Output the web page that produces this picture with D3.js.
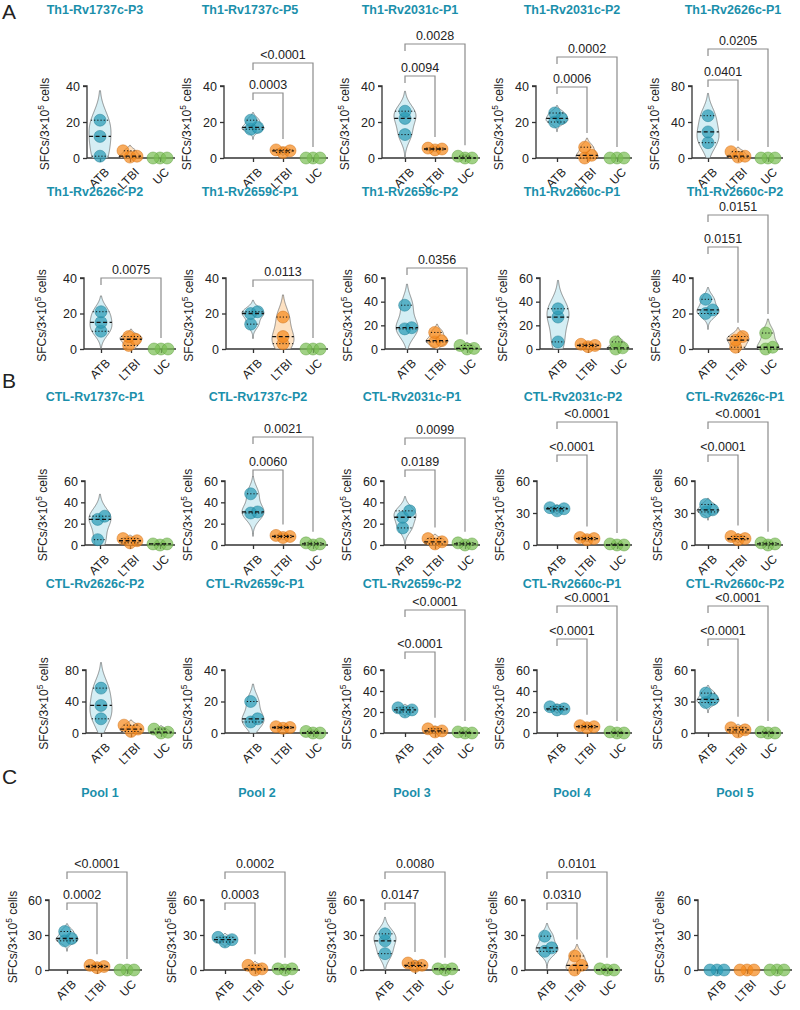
<!DOCTYPE html>
<html><head><meta charset="utf-8">
<script src="https://cdn.jsdelivr.net/npm/d3@7"></script>
<style>body{margin:0;background:#fff}svg{display:block}</style>
</head><body>
<svg id="c" width="800" height="1010"></svg>
<script>
// ---------------- DATA ----------------
const groups = ["ATB", "LTBI", "UC"];
const titles = [
  "Th1-Rv1737c-P3","Th1-Rv1737c-P5","Th1-Rv2031c-P1","Th1-Rv2031c-P2","Th1-Rv2626c-P1",
  "Th1-Rv2626c-P2","Th1-Rv2659c-P1","Th1-Rv2659c-P2","Th1-Rv2660c-P1","Th1-Rv2660c-P2",
  "CTL-Rv1737c-P1","CTL-Rv1737c-P2","CTL-Rv2031c-P1","CTL-Rv2031c-P2","CTL-Rv2626c-P1",
  "CTL-Rv2626c-P2","CTL-Rv2659c-P1","CTL-Rv2659c-P2","CTL-Rv2660c-P1","CTL-Rv2660c-P2",
  "Pool 1","Pool 2","Pool 3","Pool 4","Pool 5"];
const yTicks = [
  [0,20,40],[0,20,40],[0,20,40],[0,20,40],[0,40,80],
  [0,20,40],[0,20,40],[0,20,40,60],[0,20,40,60],[0,20,40],
  [0,20,40,60],[0,20,40,60],[0,20,40,60],[0,30,60],[0,30,60],
  [0,40,80],[0,20,40],[0,20,40,60],[0,20,40,60],[0,30,60],
  [0,30,60],[0,30,60],[0,30,60],[0,30,60],[0,30,60]];
const atbValues = [
  [1,12,21],[16,17,21],[13,22,26],[20,22,25],[17,29,47],
  [10,15,21],[14,20,21],[17,18,37],[6,27,34],[20,22,28],
  [5,24,27],[30,31,48],[16,26,32],[32,34,35],[31,33,38],
  [18,35,57],[7,9,20],[20,22,24],[22,23,25],[29,32,38],
  [25,27,33],[24,26,28],[14,25,31],[16,19,29],[0,0,0]];
const ltbiValues = [
  [0.5,1,4],[3,4,4.5],[4.5,5,5.5],[0,1.5,6],[1,2,7],
  [2,5.5,7],[3,7,18],[6,7,14],[2,3,4],[1,5,7],
  [2,4,6],[7,8,9],[1,3,6],[5,6,7],[5,6,8],
  [2,5,10],[3,3.5,4],[1,2,4],[5,6,7],[1,3,5],
  [2,3,4],[0,1,4],[3,4,6],[0,4,12],[0,0,0]];
const ucValues = [
  [0,0,0],[0,0,0],[0,0,1],[0,0,0],[0,0,0],
  [0,0,0],[0,0,0],[0,0.5,3],[0,1,6],[0,1,9],
  [0,1,1],[0,1,2],[0,1,2],[0,0,1],[0,1,2],
  [0,1,5],[0,0,1],[0,0,1],[0,0,1],[0,0,1],
  [0,0,0],[0,1,1],[0,1,1],[0,0,1],[0,0,0]];
// p values: ATB vs LTBI, ATB vs UC
const pAtbLtbi = [
  null,"0.0003","0.0094","0.0006","0.0401",
  null,null,null,null,"0.0151",
  null,"0.0060","0.0189","<0.0001","<0.0001",
  null,null,"<0.0001","<0.0001","<0.0001",
  "0.0002","0.0003","0.0147","0.0310",null];
const pAtbUc = [
  null,"<0.0001","0.0028","0.0002","0.0205",
  "0.0075","0.0113","0.0356",null,"0.0151",
  null,"0.0021","0.0099","<0.0001","<0.0001",
  null,null,"<0.0001","<0.0001","<0.0001",
  "<0.0001","0.0002","0.0080","0.0101",null];
const sectionLetters = ["A","B","C"];

// ---------------- LAYOUT ----------------
const rows = [
  {title:14, top:86, base:158},
  {title:196, top:278, base:349},
  {title:401, top:481, base:545},
  {title:588, top:670, base:733},
  {title:797, top:900, base:970}];
const axisXs = [[87,224,382,536,692],[84,226,385,540,693],[85,225,384,537,695],[86,225,384,537,695],[49,204,364,525,698]];
const cat0s  = [[100,253,405,557,708],[101,253,407,558,708],[100,253,405,557,708],[101,253,405,557,708],[67,225,385,547,717]];
const titleXs = [[95,250,410,572,733],[95,250,410,572,735],[95,258,412,573,735],[95,255,412,572,735],[100,257,412,572,735]];
const yLabelOffsets = [[38,33,33,33,33],[38,33,33,33,33],[38,33,33,33,33],[38,33,33,33,33],[32,28,28,28,34]];
// bracket line y: [inner (ATB-LTBI), outer (ATB-UC)]
const bracketYs = [
  [null,null],[93,63],[76,44],[87,57],[80,49],
  [null,278],[null,280],[null,268],[null,null],[247,215],
  [null,null],[470,437],[470,438],[455,422],[455,422],
  [null,null],[null,null],[652,610],[639,606],[639,606],
  [903,872],[903,872],[903,872],[903,872],[null,null]];
const letterYs = [19, 388, 784];
const catStep = 30;
const R = 6;
const fills = ["#2a9bb5","#f58a1f","#7cbf56"];
const strokes = ["#1c7d93","#d06d10","#5c9e3a"];
const vfills = ["#d5eef4","#fde1c2","#dcefcf"];
const titleColor = "#1b8fab";
const FONT = "'Liberation Sans', Arial, Helvetica, sans-serif";

const svg = d3.select("#c");
svg.append("rect").attr("width",800).attr("height",1010).attr("fill","#fff");

sectionLetters.forEach((L,i)=>{
  svg.append("text").attr("x",2).attr("y",letterYs[i]).text(L)
    .attr("font-family",FONT).attr("font-size",21).attr("fill","#222");
});

function quant(s,p){const n=s.length;const pos=(n+1)*p;if(pos<=1)return s[0];if(pos>=n)return s[n-1];const lo=Math.floor(pos);return s[lo-1]+(pos-lo)*(s[lo]-s[lo-1]);}
function gauss(u){return Math.exp(-0.5*u*u)/Math.sqrt(2*Math.PI);}

for(let i=0;i<25;i++){
  const r=Math.floor(i/5), c=i%5;
  const row=rows[r];
  const ax=axisXs[r][c], x0=cat0s[r][c];
  const ticks=yTicks[i];
  const ymax=d3.max(ticks);
  const y=d3.scaleLinear().domain([0,ymax]).range([row.base,row.top]);
  const x=d3.scalePoint().domain(groups).range([x0,x0+2*catStep]);
  const g=svg.append("g");
  const xEnd=x0+2*catStep+15;

  // title
  g.append("text").attr("x",titleXs[r][c]).attr("y",row.title).attr("text-anchor","middle")
    .attr("font-family",FONT).attr("font-weight","bold").attr("font-size",12.5).attr("fill",titleColor).text(titles[i]);

  // y axis
  const yAxis=d3.axisLeft(y).tickValues(ticks).tickSize(4).tickPadding(3).tickFormat(d3.format("d"));
  const ya=g.append("g").attr("transform",`translate(${ax},0)`).call(yAxis);
  ya.select(".domain").attr("stroke","#333").attr("stroke-width",1.3).attr("d",`M-4,${row.top}H0V${row.base}`);
  ya.selectAll(".tick line").attr("stroke","#333").attr("stroke-width",1.3);
  ya.selectAll(".tick text").attr("font-family",FONT).attr("font-size",12.5).attr("fill","#222");
  // x axis
  const xAxis=d3.axisBottom(x).tickSize(4).tickFormat("");
  const xa=g.append("g").attr("transform",`translate(0,${row.base})`).call(xAxis);
  xa.select(".domain").attr("stroke","#333").attr("stroke-width",1.3).attr("d",`M${ax},0H${xEnd}`);
  xa.selectAll(".tick line").attr("stroke","#333").attr("stroke-width",1.3);
  groups.forEach(gname=>{
    const tx=x(gname)+4, ty=row.base+9;
    g.append("text").attr("transform",`translate(${tx},${ty}) rotate(-45)`).attr("text-anchor","end")
      .attr("dy","0.7em").attr("font-family",FONT).attr("font-size",12).attr("fill","#222").text(gname);
  });
  // y label
  const ylx=ax-yLabelOffsets[r][c], yly=(row.top+row.base)/2+2;
  const yl=g.append("text").attr("transform",`translate(${ylx},${yly}) rotate(-90)`).attr("text-anchor","middle")
    .attr("font-family",FONT).attr("font-size",12).attr("fill","#222");
  yl.append("tspan").text("SFCs/3×10");
  yl.append("tspan").attr("font-size",8.5).attr("dy",-5).text("5");
  yl.append("tspan").attr("dy",5).text(" cells");

  const sets=[atbValues[i],ltbiValues[i],ucValues[i]];
  const tops=[];
  sets.forEach((vals,k)=>{
    const cx=x(groups[k]);
    const s=vals.slice().sort(d3.ascending);
    const n=s.length;
    const sd=d3.deviation(s)||0;
    let vTop=d3.max(s);
    let hwAt=()=>0;
    if(sd>0){
      const bw=0.9*sd*Math.pow(n,-0.2);
      const lo=Math.max(0,s[0]-3*bw), hi=s[n-1]+3*bw;
      const dens=v=>d3.mean(s,d=>gauss((v-d)/bw))/bw;
      const all=d3.range(0,121).map(j=>{const v=lo+(hi-lo)*j/120;return [v,dens(v)];});
      const mx=d3.max(all,p=>p[1]);
      const pts=all.filter((p,j)=>p[1]/mx>0.04 || j===0);
      const maxHalf=11;
      hwAt=v=>dens(v)/mx*maxHalf;
      vTop=d3.max(pts,p=>p[0]);
      const area=d3.area().curve(d3.curveBasis)
        .y(p=>y(p[0])).x0(p=>cx-p[1]/mx*maxHalf).x1(p=>cx+p[1]/mx*maxHalf);
      g.append("path").attr("d",area(pts)).attr("fill",vfills[k]).attr("stroke","#666").attr("stroke-width",0.7);
    }
    tops.push(Math.min(y(vTop),y(s[n-1])-R));
    // dodge points
    const placed=[];
    const d=7;
    const cands=[0,d,-d,2*d,-2*d];
    s.forEach(v=>{
      const py=y(v);
      let off=0;
      for(const o of cands){
        if(placed.every(p=>Math.hypot(p.x-o,p.y-py)>=d-0.01)){off=o;break;}
      }
      placed.push({x:off,y:py});
    });
    const mean=d3.mean(placed,p=>p.x);
    placed.forEach(p=>{
      g.append("circle").attr("cx",cx+p.x-mean).attr("cy",p.y).attr("r",R)
        .attr("fill",fills[k]).attr("fill-opacity",0.72).attr("stroke",strokes[k]).attr("stroke-width",0.6).attr("stroke-opacity",0.8);
    });
    if(sd>0){
      const med=quant(s,0.5), q1=quant(s,0.25), q3=quant(s,0.75);
      [[q1,"1.2,2"],[q3,"1.2,2"],[med,"4,2.5"]].forEach(([v,da],j)=>{
        const hw=Math.max(hwAt(v),4);
        g.append("line").attr("x1",cx-hw).attr("x2",cx+hw).attr("y1",y(v)).attr("y2",y(v))
          .attr("stroke","#111").attr("stroke-width",j===2?1.3:1).attr("stroke-dasharray",da);
      });
    }
  });

  // brackets
  const br=[[pAtbLtbi[i],1,bracketYs[i][0]],[pAtbUc[i],2,bracketYs[i][1]]];
  br.forEach(([lab,k,by])=>{
    if(!lab||by==null)return;
    const xa1=x(groups[0]), xb=x(groups[k]);
    const bottom=tops[k]-5;
    g.append("path").attr("d",`M${xa1},${by+7}V${by}H${xb}V${Math.max(bottom,by+7)}`)
      .attr("fill","none").attr("stroke","#8c8c8c").attr("stroke-width",1.2);
    g.append("text").attr("x",(xa1+xb)/2).attr("y",by-4).attr("text-anchor","middle")
      .attr("font-family",FONT).attr("font-size",12.5).attr("fill","#222").text(lab);
  });
}
</script>
</body></html>
